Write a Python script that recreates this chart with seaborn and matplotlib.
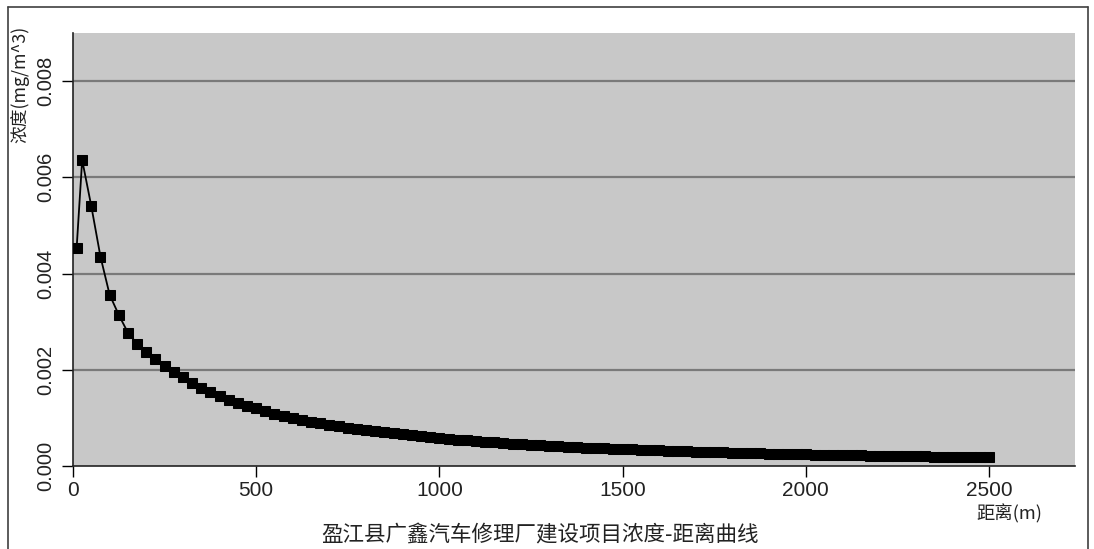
import matplotlib
matplotlib.use("Agg")
import matplotlib.pyplot as plt
from matplotlib.lines import Line2D
import seaborn as sns
import pandas as pd

# Downwind distance (m) and ground-level concentration (mg/m^3)
distance_m = [
    10, 25, 50, 75, 100, 125, 150, 175, 200, 225, 250, 275, 300, 325, 350,
    375, 400, 425, 450, 475, 500, 525, 550, 575, 600, 625, 650, 675, 700,
    725, 750, 775, 800, 825, 850, 875, 900, 925, 950, 975, 1000, 1025, 1050,
    1075, 1100, 1125, 1150, 1175, 1200, 1225, 1250, 1275, 1300, 1325, 1350,
    1375, 1400, 1425, 1450, 1475, 1500, 1525, 1550, 1575, 1600, 1625, 1650,
    1675, 1700, 1725, 1750, 1775, 1800, 1825, 1850, 1875, 1900, 1925, 1950,
    1975, 2000, 2025, 2050, 2075, 2100, 2125, 2150, 2175, 2200, 2225, 2250,
    2275, 2300, 2325, 2350, 2375, 2400, 2425, 2450, 2475, 2500,
]
concentration = [
    0.004540, 0.006360, 0.005400, 0.004350, 0.003560, 0.003140, 0.002770,
    0.002540, 0.002370, 0.002220, 0.002080, 0.001950, 0.001840, 0.001730,
    0.001620, 0.001530, 0.001450, 0.001380, 0.001310, 0.001250, 0.001200,
    0.001143, 0.001091, 0.001043, 0.001000, 0.000960, 0.000923, 0.000889,
    0.000857, 0.000828, 0.000800, 0.000772, 0.000746, 0.000721, 0.000698,
    0.000676, 0.000656, 0.000637, 0.000618, 0.000601, 0.000585, 0.000567,
    0.000550, 0.000534, 0.000519, 0.000505, 0.000491, 0.000478, 0.000466,
    0.000454, 0.000442, 0.000432, 0.000421, 0.000411, 0.000402, 0.000393,
    0.000384, 0.000375, 0.000367, 0.000359, 0.000352, 0.000344, 0.000337,
    0.000330, 0.000323, 0.000316, 0.000310, 0.000304, 0.000298, 0.000292,
    0.000287, 0.000281, 0.000276, 0.000271, 0.000266, 0.000262, 0.000257,
    0.000253, 0.000248, 0.000244, 0.000240, 0.000236, 0.000233, 0.000229,
    0.000226, 0.000222, 0.000219, 0.000216, 0.000213, 0.000210, 0.000207,
    0.000204, 0.000201, 0.000199, 0.000196, 0.000193, 0.000191, 0.000188,
    0.000186, 0.000183, 0.000181,
]
x_ticks = [0, 500, 1000, 1500, 2000, 2500]
y_ticks = [0.000, 0.002, 0.004, 0.006, 0.008]

title_text = "盈江县广鑫汽车修理厂建设项目浓度-距离曲线"
y_label = "浓度(mg/m^3)"
x_label = "距离(m)"

sns.set_theme(style="white")
plt.rcParams["font.family"] = ["Noto Sans CJK SC", "DejaVu Sans"]

df = pd.DataFrame({"distance": distance_m, "conc": concentration})

W, H = 1094, 549
fig = plt.figure(figsize=(W / 100, H / 100), dpi=100)
fig.patch.set_facecolor("white")
ax = fig.add_axes([73 / W, 1 - 466 / H, 1002 / W, 433 / H])
ax.set_facecolor("#c8c8c8")

sns.lineplot(data=df, x="distance", y="conc", ax=ax, color="black",
             linewidth=1.3, marker="s", markersize=7.2,
             markeredgecolor="black", markerfacecolor="black", zorder=3)

ax.set_xlim(0, 2735)
ax.set_ylim(0, 0.009)

# horizontal reference lines
for yv in y_ticks[1:]:
    ax.axhline(yv, color="#7a7a7a", linewidth=1.6, zorder=1)

ax.set_xticks(x_ticks)
ax.set_xticklabels([str(v) for v in x_ticks],
                   family=["Liberation Sans Narrow", "Liberation Sans"],
                   fontsize=15, color="#222222")
ax.set_yticks(y_ticks)
ax.set_yticklabels([f"{v:.3f}" for v in y_ticks], rotation=90, va="center",
                   family=["Liberation Sans", "DejaVu Sans"],
                   fontsize=14.5, color="#222222")
ax.tick_params(axis="both", direction="out", length=8, width=1,
               color="black", bottom=True, left=True)
ax.tick_params(axis="x", pad=3)
ax.tick_params(axis="y", pad=5)

for side in ("top", "right"):
    ax.spines[side].set_visible(False)
for side in ("left", "bottom"):
    ax.spines[side].set_color("#222222")
    ax.spines[side].set_linewidth(1.2)
ax.set_xlabel("")
ax.set_ylabel("")

# axis captions and title
fig.text(20 / W, 1 - 143 / H, y_label, rotation=90, ha="center", va="bottom",
         fontsize=12.8, color="#222222")
fig.text(1009 / W, 1 - 514 / H, x_label, ha="center", va="center",
         fontsize=13.2, color="#222222")
fig.text(540 / W, 1 - 535 / H, title_text, ha="center", va="center",
         fontsize=15.5, color="#222222")

# outer frame
frame_kw = dict(color="#404040", linewidth=1.2, transform=fig.transFigure)
fig.add_artist(Line2D([8 / W, 8 / W], [0, 1 - 7 / H], **frame_kw))
fig.add_artist(Line2D([8 / W, 1088 / W], [1 - 7 / H, 1 - 7 / H], **frame_kw))
fig.add_artist(Line2D([1088 / W, 1088 / W], [0, 1 - 7 / H], **frame_kw))

fig.savefig("out.png", dpi=100, facecolor="white")
